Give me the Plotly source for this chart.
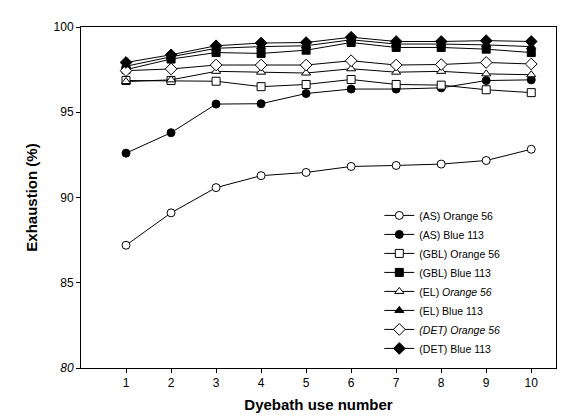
import plotly.graph_objects as go

use_number = [1, 2, 3, 4, 5, 6, 7, 8, 9, 10]

series_names = [
    "(AS) Orange 56",
    "(AS) Blue 113",
    "(GBL) Orange 56",
    "(GBL) Blue 113",
    "(EL) <i>Orange 56</i>",
    "(EL) Blue 113",
    "<i>(DET) Orange 56</i>",
    "(DET) Blue 113",
]

as_orange = [87.2, 89.1, 90.58, 91.28, 91.47, 91.82, 91.88, 91.96, 92.17, 92.83]
as_blue = [92.6, 93.8, 95.48, 95.5, 96.1, 96.36, 96.36, 96.43, 96.86, 96.9]
gbl_orange = [96.86, 96.86, 96.82, 96.5, 96.63, 96.92, 96.63, 96.59, 96.32, 96.15]
gbl_blue = [97.5, 98.12, 98.5, 98.45, 98.64, 99.09, 98.8, 98.8, 98.7, 98.5]
el_orange = [96.8, 96.9, 97.4, 97.35, 97.3, 97.55, 97.35, 97.4, 97.25, 97.2]
el_blue = [97.7, 98.25, 98.75, 98.85, 98.9, 99.25, 99.0, 99.0, 98.95, 98.85]
det_orange = [97.44, 97.54, 97.77, 97.77, 97.77, 98.02, 97.77, 97.8, 97.92, 97.83]
det_blue = [97.92, 98.37, 98.9, 99.06, 99.09, 99.4, 99.15, 99.15, 99.2, 99.15]

series_values = [as_orange, as_blue, gbl_orange, gbl_blue,
                 el_orange, el_blue, det_orange, det_blue]
symbols = ["circle", "circle", "square", "square",
           "triangle-up", "triangle-up", "diamond", "diamond"]
fills = ["white", "black", "white", "black", "white", "black", "white", "black"]

y_ticks = [80, 85, 90, 95, 100]
y_tick_text = ["<i>80</i>", "85", "90", "95", "100"]

fig = go.Figure()
for name, vals, sym, fill in zip(series_names, series_values, symbols, fills):
    fig.add_trace(go.Scatter(
        x=use_number, y=vals, name=name, mode="lines+markers",
        line=dict(color="black", width=1),
        marker=dict(symbol=sym, size=9 if sym == "diamond" else 8,
                    color=fill, line=dict(color="black", width=1)),
    ))

font_family = "Liberation Sans, Arial, sans-serif"
fig.update_layout(
    width=568, height=417,
    margin=dict(l=73, r=20, t=16, b=57),
    paper_bgcolor="white", plot_bgcolor="white",
    font=dict(family=font_family, size=12, color="black"),
    showlegend=True,
    legend=dict(x=0.628, y=0.49, xanchor="left", yanchor="top",
                bgcolor="rgba(0,0,0,0)", font=dict(size=10.5),
                tracegroupgap=0, itemwidth=30),
    xaxis=dict(range=[0, 10.55], tickvals=use_number,
               ticks="outside", ticklen=4, tickcolor="black",
               showline=True, linecolor="black", linewidth=1, mirror=True,
               showgrid=False, zeroline=False,
               title=dict(text="<b>Dyebath use number</b>", font=dict(size=15), standoff=10)),
    yaxis=dict(range=[80, 100], tickvals=y_ticks, ticktext=y_tick_text,
               ticks="outside", ticklen=4, tickcolor="black",
               showline=True, linecolor="black", linewidth=1, mirror=True,
               showgrid=False, zeroline=False,
               title=dict(text="<b>Exhaustion (%)</b>", font=dict(size=15), standoff=12)),
)

fig.write_html("out.html")
